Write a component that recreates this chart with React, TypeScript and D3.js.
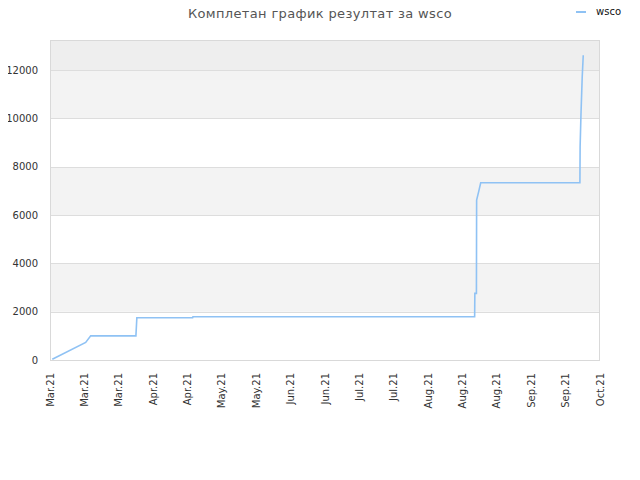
import React from 'react';
import * as d3 from 'd3';

const title = 'Комплетан график резултат за wsco';
const seriesName = 'wsco';

// points: [time, score]
const dates = [
    '2021-03-04T10:00', '2021-03-17T17:00', '2021-03-19T17:00', '2021-04-06T17:00',
    '2021-04-07T02:00', '2021-04-29T07:00', '2021-04-29T10:00', '2021-08-19T14:00',
    '2021-08-19T16:00', '2021-08-20T07:00', '2021-08-20T09:00', '2021-08-21T04:00',
    '2021-08-22T00:00', '2021-09-30T12:00', '2021-09-30T14:00', '2021-09-30T22:00',
    '2021-10-01T10:00', '2021-10-01T20:00',
];
const scores = [
    30, 730, 1000, 1000,
    1750, 1750, 1790, 1790,
    2760, 2760, 6620, 6960,
    7340, 7340, 8830, 10140,
    11720, 12620,
];

const xTickLabels = [
    'Mar.21', 'Mar.21', 'Mar.21', 'Apr.21', 'Apr.21', 'May.21', 'May.21', 'Jun.21', 'Jun.21',
    'Jul.21', 'Jul.21', 'Aug.21', 'Aug.21', 'Aug.21', 'Sep.21', 'Sep.21', 'Oct.21',
];
const yTicks = [0, 2000, 4000, 6000, 8000, 10000, 12000];
const yMax = 13250;
const timeDomain = ['2021-03-03T12:00', '2021-10-08T12:00'];

const width = 640;
const height = 480;
const left = 50;
const right = 600;
const top = 40;
const bottom = 360;

const App = () => {
    const parse = (s: string) => new Date(s);
    const xScale = d3.scaleTime().domain(timeDomain.map(parse)).range([left, right]);
    const yScale = d3.scaleLinear().domain([0, yMax]).range([bottom, top]);
    const tickScale = d3.scalePoint<number>().domain(d3.range(xTickLabels.length)).range([left, right]);

    const points = dates.map((d, i) => ({ t: parse(d), v: scores[i] }));
    const line = d3.line<{ t: Date; v: number }>()
        .x((d) => xScale(d.t))
        .y((d) => yScale(d.v));

    // bands between gridlines, plus the band above the last tick
    const bandEdges = [...yTicks, yMax];
    const bandFill = (i: number) => {
        if (i === bandEdges.length - 2) return '#eeeeee';
        return i % 2 === 1 ? '#f3f3f3' : '#ffffff';
    };

    const font = 'DejaVu Sans, sans-serif';

    return (
        <svg width={width} height={height} style={{ display: 'block', margin: -8 }}>
            <rect width={width} height={height} fill="#ffffff" />
            {bandEdges.slice(0, -1).map((v, i) => (
                <rect key={'b' + i} x={left} width={right - left}
                    y={yScale(bandEdges[i + 1])} height={yScale(v) - yScale(bandEdges[i + 1])}
                    fill={bandFill(i)} />
            ))}
            {yTicks.slice(1).map((v) => (
                <line key={'g' + v} x1={left} x2={right} y1={Math.round(yScale(v)) + 0.5} y2={Math.round(yScale(v)) + 0.5}
                    stroke="#dddddd" />
            ))}
            <rect x={left + 0.5} y={top + 0.5} width={right - left - 1} height={bottom - top}
                fill="none" stroke="#d9d9d9" />

            <path d={line(points) ?? ''} fill="none" stroke="#8fc2f4" strokeWidth={1.6} />

            {yTicks.map((v) => (
                <text key={'y' + v} x={38} y={yScale(v)} dy="0.35em" textAnchor="end"
                    fontFamily={font} fontSize={10} fill="#333333">{v}</text>
            ))}
            {xTickLabels.map((s, i) => (
                <text key={'x' + i} transform={`translate(${tickScale(i)! + 3.5},${bottom + 13}) rotate(-90)`}
                    textAnchor="end" fontFamily={font} fontSize={10} fill="#333333">{s}</text>
            ))}

            <text x={320} y={18} textAnchor="middle" fontFamily={font} fontSize={13}
                fill="#555555" letterSpacing={0.35}>{title}</text>

            <line x1={576} x2={586} y1={12} y2={12} stroke="#8fc2f4" strokeWidth={2} />
            <text x={596} y={15} fontFamily={font} fontSize={10} fill="#111111">{seriesName}</text>
        </svg>
    );
};

export default App;
